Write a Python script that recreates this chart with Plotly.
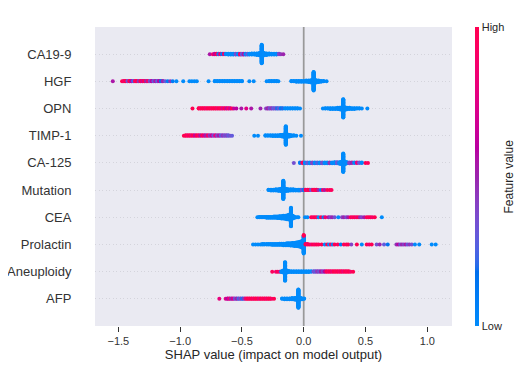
import math
import plotly.graph_objects as go

# Feature names, top to bottom
features = ["CA19-9", "HGF", "OPN", "TIMP-1", "CA-125",
            "Mutation", "CEA", "Prolactin", "Aneuploidy", "AFP"]

# Each entry: (SHAP value of a bin, number of samples, feature value 0=low..1=high)
# entries sharing the same SHAP value are stacked in the same bin, in order
CA19_9 = [(-0.76, 1, 0.55), (-0.735, 1, 0.9), (-0.72, 2, 0.6), (-0.705, 2, 1.0), (-0.69, 2, 0.2),
          (-0.675, 2, 0.8), (-0.66, 2, 0.1), (-0.645, 2, 0.9), (-0.63, 2, 0), (-0.61, 3, 0),
          (-0.59, 3, 0), (-0.57, 3, 0), (-0.55, 3, 0.35), (-0.53, 3, 0), (-0.515, 3, 0.9),
          (-0.50, 3, 0.3), (-0.485, 3, 0.55), (-0.47, 3, 0), (-0.455, 3, 0.3), (-0.44, 3, 0),
          (-0.42, 4, 0), (-0.40, 4, 0), (-0.38, 5, 0), (-0.36, 7, 0), (-0.34, 50, 0),
          (-0.32, 7, 0), (-0.30, 5, 0), (-0.28, 4, 0), (-0.26, 3, 0), (-0.24, 3, 0),
          (-0.22, 3, 0), (-0.20, 2, 0.4), (-0.185, 1, 0.45), (-0.165, 1, 0.5)]

HGF = [(-1.545, 1, 0.55), (-1.47, 1, 1.0), (-1.455, 2, 0.9), (-1.44, 2, 1.0), (-1.425, 2, 0.35),
       (-1.41, 2, 1.0), (-1.395, 2, 0.6), (-1.38, 2, 0.25), (-1.365, 2, 0.95), (-1.35, 2, 1.0),
       (-1.335, 2, 0.45), (-1.32, 2, 1.0), (-1.305, 2, 0.7), (-1.29, 2, 1.0), (-1.275, 2, 0.5),
       (-1.26, 2, 0.9), (-1.245, 2, 0.35), (-1.23, 2, 0.6), (-1.215, 2, 0.3), (-1.20, 2, 0.55),
       (-1.185, 2, 0.3), (-1.17, 2, 0.6), (-1.155, 2, 0.15), (-1.14, 2, 0.5), (-1.12, 1, 0.3),
       (-1.10, 1, 0.1), (-1.08, 1, 0.45), (-1.06, 1, 0.1),
       (-1.03, 1, 0), (-0.975, 1, 0), (-0.925, 1, 0), (-0.905, 1, 0), (-0.885, 1, 0), (-0.865, 1, 0),
       (-0.77, 1, 0), (-0.72, 2, 0), (-0.70, 2, 0), (-0.68, 2, 0), (-0.66, 2, 0), (-0.64, 2, 0),
       (-0.62, 2, 0), (-0.60, 2, 0), (-0.58, 2, 0), (-0.56, 2, 0), (-0.54, 2, 0), (-0.52, 2, 0),
       (-0.50, 2, 0), (-0.44, 1, 0), (-0.405, 1, 0),
       (-0.30, 1, 0), (-0.28, 2, 0), (-0.26, 2, 0), (-0.24, 2, 0), (-0.22, 2, 0), (-0.205, 1, 0),
       (-0.10, 2, 0), (-0.08, 2, 0), (-0.06, 3, 0), (-0.04, 3, 0), (-0.02, 3, 0), (0.0, 3, 0),
       (0.02, 4, 0), (0.04, 5, 0), (0.06, 7, 0), (0.08, 50, 0), (0.10, 7, 0), (0.12, 5, 0),
       (0.14, 3, 0), (0.16, 2, 0), (0.185, 1, 0)]

OPN = [(-0.90, 1, 1.0), (-0.85, 2, 1.0), (-0.835, 2, 0.95), (-0.82, 2, 1.0), (-0.805, 2, 1.0),
       (-0.79, 2, 0.9), (-0.775, 2, 1.0), (-0.76, 2, 1.0), (-0.745, 2, 0.95), (-0.73, 2, 1.0),
       (-0.715, 2, 1.0), (-0.70, 2, 0.9), (-0.685, 2, 1.0), (-0.67, 2, 0.95), (-0.655, 2, 0.75),
       (-0.64, 2, 1.0), (-0.625, 2, 0.65), (-0.61, 2, 0.9), (-0.595, 2, 0.7), (-0.58, 1, 1.0),
       (-0.565, 1, 0.65), (-0.545, 1, 0.6), (-0.505, 1, 0.55), (-0.465, 1, 0.75), (-0.425, 1, 0.55),
       (-0.35, 1, 0.5), (-0.305, 1, 0.4), (-0.29, 2, 0.5), (-0.275, 2, 0.35), (-0.26, 2, 0.45),
       (-0.245, 2, 0.3), (-0.23, 2, 0.35), (-0.215, 2, 0.2), (-0.20, 2, 0.3), (-0.185, 2, 0.1),
       (-0.17, 2, 0.2), (-0.15, 2, 0), (-0.13, 2, 0), (-0.11, 2, 0), (-0.09, 2, 0), (-0.07, 2, 0),
       (-0.05, 2, 0), (-0.03, 1, 0),
       (0.155, 1, 0), (0.175, 2, 0), (0.195, 2, 0), (0.215, 3, 0), (0.235, 3, 0), (0.255, 3, 0),
       (0.275, 4, 0), (0.29, 5, 0), (0.305, 7, 0), (0.32, 50, 0), (0.335, 7, 0), (0.35, 5, 0),
       (0.37, 4, 0), (0.39, 3, 0), (0.41, 3, 0), (0.43, 2, 0), (0.45, 2, 0), (0.47, 1, 0),
       (0.515, 1, 0)]

TIMP_1 = [(-0.97, 1, 1.0), (-0.955, 2, 1.0), (-0.94, 2, 0.9), (-0.925, 2, 1.0), (-0.91, 2, 0.85),
          (-0.895, 2, 1.0), (-0.88, 2, 0.65), (-0.865, 2, 1.0), (-0.85, 2, 0.9), (-0.835, 2, 0.55),
          (-0.82, 2, 1.0), (-0.805, 2, 0.7), (-0.79, 2, 0.5), (-0.775, 2, 0.9), (-0.76, 2, 0.45),
          (-0.745, 2, 0.65), (-0.73, 2, 0.35), (-0.715, 2, 0.8), (-0.70, 2, 0.4), (-0.685, 2, 0.55),
          (-0.67, 2, 0.3), (-0.655, 2, 0.45), (-0.64, 2, 0.35), (-0.625, 2, 0.4), (-0.61, 2, 0.3),
          (-0.595, 1, 0.35), (-0.58, 1, 0.3),
          (-0.40, 1, 0), (-0.37, 1, 0), (-0.31, 2, 0), (-0.29, 2, 0), (-0.27, 2, 0), (-0.25, 3, 0),
          (-0.23, 3, 0), (-0.21, 3, 0), (-0.19, 4, 0), (-0.175, 5, 0), (-0.16, 7, 0),
          (-0.145, 50, 0), (-0.13, 7, 0), (-0.115, 5, 0), (-0.10, 3, 0), (-0.08, 2, 0),
          (-0.06, 1, 0), (-0.022, 1, 0)]

CA_125 = [(-0.08, 1, 0.35), (-0.03, 2, 0.1), (-0.01, 2, 0.95), (0.01, 3, 0), (0.03, 3, 0.3),
          (0.05, 3, 0), (0.07, 3, 0.4), (0.09, 3, 0), (0.11, 3, 0.25), (0.13, 3, 0),
          (0.15, 3, 0.35), (0.17, 3, 0), (0.19, 3, 0), (0.21, 3, 0.45), (0.23, 3, 0),
          (0.25, 4, 0), (0.27, 4, 0.3), (0.29, 5, 0), (0.305, 7, 0), (0.32, 50, 0),
          (0.335, 7, 0), (0.35, 4, 0), (0.37, 3, 0.4), (0.39, 2, 0.5), (0.41, 2, 0),
          (0.43, 2, 0.8), (0.45, 2, 0.3), (0.47, 2, 0), (0.50, 1, 1.0), (0.52, 1, 0.95)]

MUTATION = [(-0.285, 2, 0), (-0.265, 3, 0), (-0.245, 3, 0), (-0.225, 4, 0), (-0.205, 5, 0),
            (-0.19, 6, 0), (-0.178, 8, 0), (-0.165, 50, 0), (-0.152, 8, 0), (-0.14, 6, 0),
            (-0.125, 5, 0), (-0.105, 4, 0), (-0.085, 4, 0), (-0.065, 3, 0), (-0.045, 3, 0),
            (-0.03, 3, 0), (-0.015, 2, 0.35), (0.0, 2, 0.1), (0.015, 2, 1.0), (0.03, 2, 0.9),
            (0.045, 2, 1.0), (0.06, 2, 0.35), (0.075, 2, 1.0), (0.09, 2, 0.95), (0.105, 2, 1.0),
            (0.12, 1, 0.5), (0.14, 1, 0.1), (0.155, 1, 0.9), (0.17, 1, 0.55), (0.19, 1, 1.0),
            (0.21, 1, 1.0), (0.225, 1, 0.95)]

CEA = [(-0.375, 1, 0), (-0.36, 2, 0), (-0.345, 2, 0), (-0.33, 2, 0), (-0.315, 2, 0), (-0.30, 3, 0),
       (-0.285, 3, 0), (-0.27, 3, 0), (-0.255, 3, 0), (-0.24, 4, 0), (-0.225, 4, 0), (-0.21, 5, 0),
       (-0.195, 6, 0), (-0.18, 7, 0), (-0.165, 8, 0), (-0.15, 9, 0), (-0.135, 11, 0),
       (-0.12, 14, 0), (-0.103, 50, 0), (-0.088, 8, 0), (-0.073, 3, 0), (-0.055, 1, 0),
       (-0.043, 1, 0),
       (0.011, 1, 0), (0.03, 1, 0), (0.06, 1, 1.0), (0.075, 1, 0.9), (0.09, 1, 1.0), (0.105, 1, 0.95),
       (0.12, 1, 0), (0.14, 1, 1.0), (0.16, 1, 0.1), (0.175, 1, 0.9), (0.20, 1, 0.55), (0.215, 1, 0.4),
       (0.23, 1, 0.5), (0.25, 1, 0.35), (0.28, 1, 0), (0.31, 1, 0.4), (0.325, 1, 0.5),
       (0.345, 1, 0.35), (0.36, 1, 0.55), (0.38, 1, 1.0), (0.395, 1, 0.9), (0.41, 1, 1.0),
       (0.425, 1, 0.85), (0.44, 1, 1.0), (0.455, 1, 0.5), (0.47, 1, 0.4), (0.49, 1, 0.55),
       (0.51, 1, 1.0), (0.525, 1, 0.95), (0.54, 1, 1.0), (0.555, 1, 0.9), (0.575, 1, 1.0),
       (0.632, 1, 0)]

PROLACTIN = [(-0.41, 1, 0), (-0.39, 1, 0), (-0.37, 1, 0), (-0.35, 1, 0), (-0.335, 2, 0),
             (-0.32, 2, 0), (-0.30, 2, 0), (-0.285, 2, 0), (-0.27, 2, 0), (-0.255, 3, 0),
             (-0.24, 3, 0), (-0.225, 3, 0), (-0.21, 3, 0), (-0.195, 4, 0), (-0.18, 4, 0),
             (-0.165, 5, 0), (-0.15, 5, 0), (-0.135, 6, 0), (-0.12, 6, 0), (-0.105, 7, 0),
             (-0.09, 8, 0), (-0.075, 9, 0), (-0.06, 10, 0), (-0.045, 12, 0), (-0.03, 14, 0),
             (-0.015, 18, 0), (0.0, 45, 0), (0.0, 1, 1.0), (0.0, 1, 0), (0.0, 1, 0.9),
             (0.0, 1, 0), (0.0, 1, 1.0),
             (0.015, 2, 1.0), (0.03, 2, 0.9), (0.045, 1, 1.0), (0.06, 1, 0.85), (0.075, 1, 1.0),
             (0.09, 1, 0.9), (0.105, 1, 1.0), (0.12, 1, 0.95), (0.145, 1, 1.0), (0.17, 1, 0),
             (0.19, 1, 1.0), (0.205, 1, 0), (0.22, 1, 0.9), (0.235, 1, 0), (0.25, 1, 1.0),
             (0.275, 1, 0.95), (0.30, 1, 0.1), (0.325, 1, 1.0), (0.345, 1, 0.95), (0.36, 1, 1.0),
             (0.385, 1, 0.4), (0.43, 1, 1.0), (0.47, 1, 0), (0.51, 1, 1.0), (0.53, 1, 0.85),
             (0.55, 1, 1.0), (0.59, 1, 0.35), (0.615, 1, 0.5), (0.65, 1, 0.3), (0.68, 1, 0.15),
             (0.75, 1, 0.45), (0.765, 1, 0.6), (0.78, 1, 0.35), (0.795, 1, 0.5), (0.81, 1, 0.4),
             (0.825, 1, 0.55), (0.84, 1, 0.3), (0.855, 1, 0.45), (0.875, 1, 0.35), (0.90, 1, 0),
             (0.935, 1, 0), (1.036, 1, 0), (1.068, 1, 0)]

ANEUPLOIDY = [(-0.255, 1, 0.95), (-0.225, 1, 0.85), (-0.21, 1, 1.0), (-0.195, 1, 0.8),
              (-0.18, 3, 0), (-0.166, 6, 0), (-0.151, 50, 0), (-0.136, 6, 0), (-0.12, 4, 0),
              (-0.10, 3, 0), (-0.08, 3, 0), (-0.06, 3, 0), (-0.04, 3, 0), (-0.02, 3, 0),
              (0.0, 3, 0), (0.02, 3, 0), (0.04, 3, 0), (0.06, 2, 0), (0.08, 2, 0.35),
              (0.095, 2, 0.3), (0.11, 2, 0.45), (0.125, 2, 0.35), (0.14, 2, 0.55), (0.155, 2, 0.4),
              (0.17, 2, 0.6), (0.185, 2, 1.0), (0.20, 2, 0.9), (0.215, 2, 1.0), (0.23, 2, 0.85),
              (0.245, 2, 1.0), (0.26, 2, 0.95), (0.275, 2, 1.0), (0.29, 2, 0.9), (0.305, 2, 1.0),
              (0.32, 2, 0.85), (0.335, 2, 1.0), (0.35, 2, 0.95), (0.365, 2, 1.0), (0.38, 1, 0.9),
              (0.40, 1, 1.0)]

AFP = [(-0.683, 1, 0.8), (-0.632, 1, 0.75), (-0.617, 2, 0.6), (-0.602, 2, 0.8), (-0.587, 2, 0.5),
       (-0.572, 2, 0.7), (-0.557, 2, 0.35), (-0.542, 2, 0.5), (-0.527, 2, 0.25), (-0.512, 2, 0.4),
       (-0.497, 2, 0.2), (-0.482, 2, 0.45), (-0.467, 2, 0.9), (-0.452, 2, 1.0), (-0.437, 2, 0.95),
       (-0.422, 2, 1.0), (-0.407, 2, 0.9), (-0.392, 2, 1.0), (-0.377, 2, 1.0), (-0.362, 2, 0.85),
       (-0.347, 2, 1.0), (-0.332, 2, 0.95), (-0.317, 2, 1.0), (-0.302, 2, 0.9), (-0.287, 2, 1.0),
       (-0.272, 2, 1.0), (-0.257, 1, 0.9), (-0.24, 1, 1.0),
       (-0.175, 2, 0), (-0.155, 3, 0), (-0.135, 3, 0), (-0.115, 3, 0), (-0.095, 4, 0),
       (-0.075, 5, 0), (-0.058, 7, 0), (-0.043, 50, 0), (-0.028, 6, 0), (-0.013, 3, 0),
       (0.003, 2, 0)]

feature_bins = [CA19_9, HGF, OPN, TIMP_1, CA_125, MUTATION, CEA, PROLACTIN, ANEUPLOIDY, AFP]

x_tick_vals = [-1.5, -1.0, -0.5, 0.0, 0.5, 1.0]
x_tick_text = ["\u22121.5", "\u22121.0", "\u22120.5", "0.0", "0.5", "1.0"]


# ---- SHAP red-blue colormap (LCh interpolation) ----
def lch_to_hex(L, C, h):
    a = C * math.cos(h)
    b = C * math.sin(h)
    fy = (L + 16) / 116
    fx = fy + a / 500
    fz = fy - b / 200

    def finv(t):
        return t ** 3 if t > 0.2068966 else (t - 16 / 116) / 7.787

    X = 0.95047 * finv(fx)
    Y = 1.0 * finv(fy)
    Z = 1.08883 * finv(fz)
    r = 3.2404542 * X - 1.5371385 * Y - 0.4985314 * Z
    g = -0.9692660 * X + 1.8760108 * Y + 0.0415560 * Z
    bb = 0.0556434 * X - 0.2040259 * Y + 1.0572252 * Z

    def gam(c):
        c = 1.055 * c ** (1 / 2.4) - 0.055 if c > 0.0031308 else 12.92 * c
        return min(max(c, 0.0), 1.0)

    return "#%02x%02x%02x" % tuple(int(round(gam(c) * 255)) for c in (r, g, bb))


nsteps = 100
blue_lch = (54.0, 70.0, 4.6588)
red_lch = (54.0, 90.0, 0.35470565 + 2 * math.pi)
l_mid = 40.0
colorscale = []
for i in range(nsteps):
    t = i / (nsteps - 1)
    half = nsteps // 2
    if i < half:
        L = blue_lch[0] + (l_mid - blue_lch[0]) * i / (half - 1)
    else:
        L = l_mid + (red_lch[0] - l_mid) * (i - half) / (half - 1)
    C = blue_lch[1] + (red_lch[1] - blue_lch[1]) * t
    H = blue_lch[2] + (red_lch[2] - blue_lch[2]) * t
    colorscale.append([t, lch_to_hex(L, C, H)])


# ---- beeswarm layout as in shap summary plot ----
def swarm(bins, row):
    groups = {}
    order = []
    for x, n, v in bins:
        if x not in groups:
            groups[x] = []
            order.append(x)
        groups[x] += [v] * n
    maxn = max(len(g) for g in groups.values())
    L = math.ceil((maxn - 1) / 2)
    scale = 0.9 * 0.4 / (L + 1)
    xs, ys, cs = [], [], []
    for x in order:
        for k, v in enumerate(groups[x]):
            off = math.ceil(k / 2) * ((k % 2) * 2 - 1)
            xs.append(x)
            ys.append(row + off * scale)
            cs.append(v)
    return xs, ys, cs


all_x, all_y, all_c = [], [], []
nfeat = len(features)
for i, bins in enumerate(feature_bins):
    row = nfeat - 1 - i
    xs, ys, cs = swarm(bins, row)
    all_x += xs
    all_y += ys
    all_c += cs

FONT = "Liberation Sans, Arial, sans-serif"
PLOT_W = 357  # plot area width in px

fig = go.Figure()
fig.add_trace(go.Scatter(
    x=all_x, y=all_y, mode="markers",
    marker=dict(
        size=4, color=all_c, colorscale=colorscale, cmin=0, cmax=1,
        line=dict(width=0),
        showscale=True,
        colorbar=dict(
            thickness=4, thicknessmode="pixels",
            len=299, lenmode="pixels",
            x=(475 - 95) / PLOT_W, xanchor="left", xpad=0,
            y=0.5, yanchor="middle", ypad=0,
            outlinewidth=0,
            tickvals=[0, 1], ticktext=["Low", "High"],
            ticks="", tickfont=dict(family=FONT, size=11, color="#262626"),
        ),
    ),
    hoverinfo="skip", showlegend=False,
))

fig.add_shape(type="line", xref="x", yref="paper", x0=0, x1=0, y0=0, y1=1,
              line=dict(color="#999999", width=1.75), layer="below")

fig.add_annotation(text="Feature value", xref="paper", yref="paper",
                   x=(508 - 95) / PLOT_W, y=0.5, xanchor="center", yanchor="middle",
                   textangle=-90, showarrow=False,
                   font=dict(family=FONT, size=12, color="#262626"))

# page body has an 8px default margin: figure is sized/placed to compensate
fig.update_layout(
    template="none",
    width=514, height=361,
    margin=dict(l=87, r=70, t=19, b=43, pad=0),
    paper_bgcolor="white", plot_bgcolor="#eaeaf2",
    font=dict(family=FONT, color="#262626"),
    xaxis=dict(
        range=[-1.689, 1.2], tickvals=x_tick_vals, ticktext=x_tick_text,
        showgrid=False, zeroline=False, showline=False,
        ticks="outside", ticklen=5, tickwidth=1, tickcolor="#333333",
        tickfont=dict(family=FONT, size=11, color="#333333"),
        title=dict(text="SHAP value (impact on model output)",
                   font=dict(family=FONT, size=13, color="#262626"), standoff=2),
        automargin=False,
    ),
    yaxis=dict(
        range=[-1, nfeat], tickvals=list(range(nfeat)), ticktext=features[::-1],
        showgrid=True, gridcolor="#d4d4dc", gridwidth=0.5, griddash="1px,2.5px",
        zeroline=False, showline=False,
        ticks="outside", ticklen=20, tickwidth=0.5, tickcolor="rgba(0,0,0,0)",
        tickfont=dict(family=FONT, size=13, color="#333333"),
        automargin=False,
    ),
)

fig.write_html("out.html")
